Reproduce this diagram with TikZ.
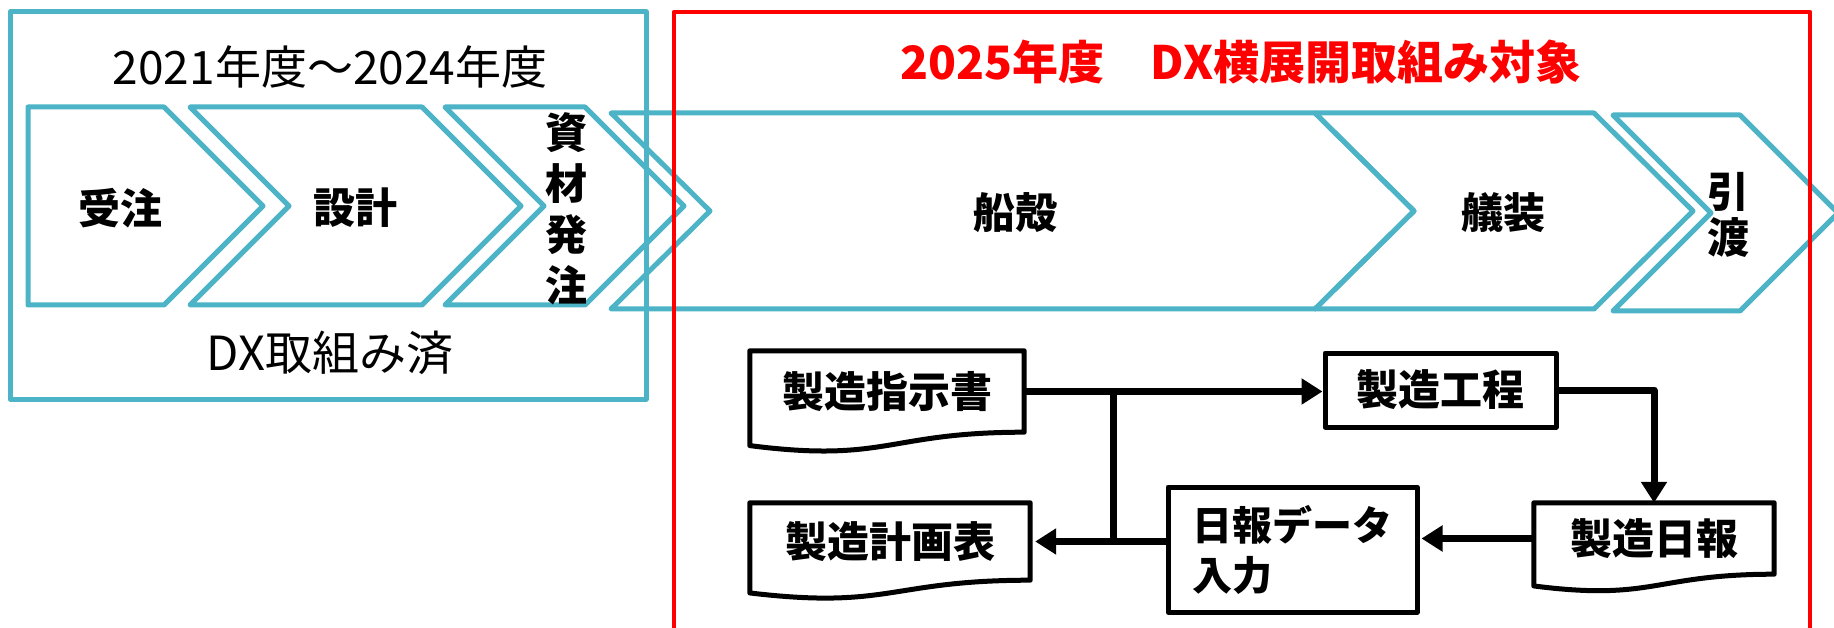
\documentclass[tikz,border=0pt]{standalone}
\usepackage{fontspec}
\setmainfont{Noto Sans CJK JP}
\usetikzlibrary{arrows.meta,calc}
\definecolor{tealc}{RGB}{76,180,198}
\definecolor{redc}{RGB}{255,0,0}
\newcommand\docoutline[1]{%
  \draw[boxline] (#1.north west) -- (#1.north east) -- (#1.south east)
    .. controls (#1.south) and ($(#1.north)!1.381!(#1.south)$) ..
    ($(#1.north west)!1.1646!(#1.south west)$) -- cycle;}
\begin{document}
\begin{tikzpicture}[x=1pt,y=-1pt,
  tealline/.style={draw=tealc,line width=5pt,line join=round},
  redline/.style={draw=redc,line width=4.5pt,line join=round},
  boxline/.style={draw=black,line width=5pt,line join=round},
  conn/.style={draw=black,line width=7pt},
  arr/.style={conn,-{Triangle[length=21pt,width=25pt]}},
  lbl/.style={font=\fontsize{42}{51}\selectfont\bfseries,inner sep=0pt,align=center},
  docnode/.style={font=\fontsize{42}{50}\selectfont\bfseries,inner sep=0pt,draw=none},
  procbox/.style={boxline,font=\fontsize{42}{50}\selectfont\bfseries,inner sep=0pt},
]
\useasboundingbox (0,0) rectangle (1834,628);
\clip (0,0) rectangle (1834,628);
\fill[white] (0,0) rectangle (1834,628);

% left frame
\draw[tealline] (10,12) rectangle (646,399);

% chevrons
\draw[tealline] (28,107) -- (164,107) -- (263,206) -- (164,305) -- (28,305) -- cycle;
\draw[tealline] (190,107) -- (422,107) -- (521,206) -- (422,305) -- (190,305) -- (289,206) -- cycle;
\draw[tealline] (445,107) -- (585,107) -- (684,206) -- (585,305) -- (445,305) -- (544,206) -- cycle;
\draw[tealline] (611,113) -- (1315,113) -- (1414,211) -- (1315,309) -- (611,309) -- (710,211) -- cycle;
\draw[tealline] (1315,113) -- (1594,113) -- (1693,211) -- (1594,309) -- (1315,309) -- (1414,211) -- cycle;
\draw[tealline] (1613,115) -- (1740,115) -- (1838,213) -- (1740,311) -- (1613,311) -- (1711,213) -- cycle;

% red frame
\draw[redline] (674,640) -- (674,12) -- (1810,12) -- (1810,640);

% titles
\node[font=\fontsize{46}{50}\selectfont,inner sep=0pt] (title1) at (330,67) {2021年度～2024年度};
\node[font=\fontsize{47}{50}\selectfont,inner sep=0pt] (title2) at (330,353) {DX取組み済};
\node[font=\fontsize{46}{50}\selectfont\bfseries,text=redc,inner sep=0pt] (title3) at (1241,62) {2025年度　DX横展開取組み対象};

% chevron labels
\node[lbl] (t1) at (120,208) {受注};
\node[lbl] (t2) at (355,208) {設計};
\node[lbl] (t3) at (566,209) {資\\材\\発\\注};
\node[lbl] (t4) at (1015,213) {船殻};
\node[lbl] (t5) at (1503,213) {艤装};
\node[lbl,font=\fontsize{42}{46}\selectfont\bfseries] (t6) at (1728,215) {引\\渡};

% flowchart
\node[docnode,minimum width=274pt,minimum height=81pt] (doc1) at (887,391.5) {製造指示書};
\node[docnode,minimum width=280pt,minimum height=77pt] (doc2) at (890,541.5) {製造計画表};
\node[docnode,minimum width=240pt,minimum height=71pt] (doc3) at (1654,538.5) {製造日報};
\docoutline{doc1}
\docoutline{doc2}
\docoutline{doc3}
\node[procbox,minimum width=231pt,minimum height=74pt] (box2) at (1440.5,390) {製造工程};
\node[procbox,minimum width=249pt,minimum height=125pt,align=left,font=\fontsize{40}{50}\selectfont\bfseries] (box3) at (1292.5,549.5) {日報データ\\入力};

\coordinate (j1) at (1113,391.5);
\coordinate (j2) at (j1 |- doc2.east);
\draw[arr] (doc1.east) -- (doc1.east -| box2.west);
\draw[conn] (j1) -- (j2);
\draw[arr,shorten >=5pt] (box3.west |- doc2.east) -- (doc2.east);
\draw[arr,line join=round] (box2.east) -| (doc3.north);
\draw[arr,shorten >=2pt] (doc3.west) -- (doc3.west -| box3.east);
\end{tikzpicture}
\end{document}
